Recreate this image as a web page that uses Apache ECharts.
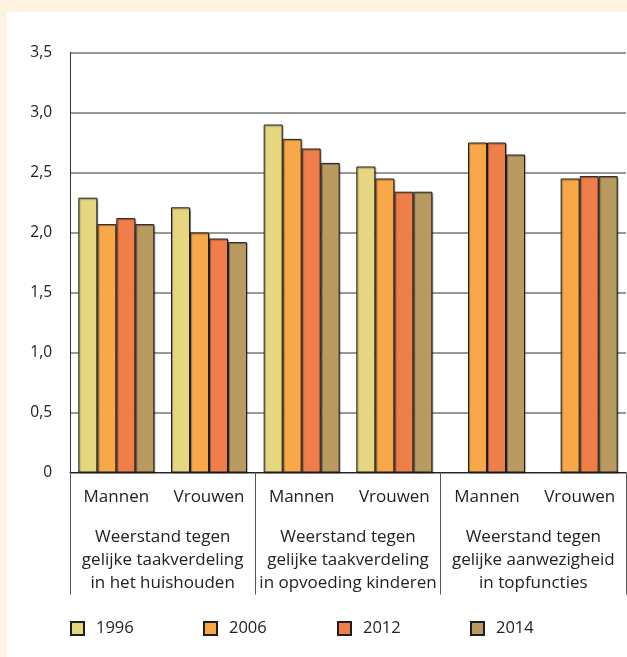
<!DOCTYPE html>
<html>
<head>
<meta charset="utf-8">
<script src="https://cdn.jsdelivr.net/npm/echarts@6/dist/echarts.min.js"></script>
<style>
  html, body { margin: 0; padding: 0; background: #fef3e0; }
  #main { position: absolute; left: 7px; top: 12px; width: 620px; height: 645px; background: #ffffff; }
</style>
</head>
<body>
<div id="main"></div>
<script>
// data
var groepen = ['Mannen', 'Vrouwen', 'Mannen', 'Vrouwen', 'Mannen', 'Vrouwen'];
var thema = [
  'Weerstand tegen\ngelijke taakverdeling\nin het huishouden',
  'Weerstand tegen\ngelijke taakverdeling\nin opvoeding kinderen',
  'Weerstand tegen\ngelijke aanwezigheid\nin topfuncties'
];
var jaren = ['1996', '2006', '2012', '2014'];
var j1996 = [2.29, 2.21, 2.90, 2.55, null, null];
var j2006 = [2.07, 2.00, 2.78, 2.45, 2.75, 2.45];
var j2012 = [2.12, 1.95, 2.70, 2.34, 2.75, 2.47];
var j2014 = [2.07, 1.92, 2.58, 2.34, 2.65, 2.47];
var kleuren = ['#e5d67f', '#f8a848', '#f07e4b', '#b99b61'];

var myChart = echarts.init(document.getElementById('main'));

var font = 'Open Sans';
var reeksen = [j1996, j2006, j2012, j2014];
var legendLeft = [63, 196, 330, 463];

var option = {
  animation: false,
  textStyle: { fontFamily: font },
  grid: { left: 63, right: 1, top: 40.5, bottom: 184.5, containLabel: false },
  // one legend per year, so the spacing matches the figure
  legend: jaren.map(function (j, i) {
    return {
      left: legendLeft[i],
      top: 608,
      padding: 0,
      itemWidth: 13,
      itemHeight: 13,
      icon: 'rect',
      data: [j],
      textStyle: { fontSize: 16.5, color: '#222', padding: [0, 0, 0, 7], fontFamily: font }
    };
  }),
  xAxis: [
    {
      type: 'category',
      data: groepen,
      position: 'bottom',
      axisLine: { lineStyle: { color: '#222', width: 1 } },
      axisTick: { inside: true, length: 9, interval: 0, lineStyle: { color: '#777', width: 1.5 } },
      axisLabel: { fontSize: 17, color: '#222', margin: 16, interval: 0, fontFamily: font }
    },
    {
      type: 'category',
      data: thema,
      position: 'bottom',
      axisLine: { show: true, lineStyle: { color: 'rgba(0,0,0,0)' } },
      axisTick: { show: true, length: 122, interval: 0, lineStyle: { color: '#555', width: 1 } },
      axisLabel: { fontSize: 17, color: '#222', margin: 53, lineHeight: 23, interval: 0, fontFamily: font }
    }
  ],
  yAxis: {
    type: 'value',
    min: 0,
    max: 3.5,
    interval: 0.5,
    axisLine: { show: true, lineStyle: { color: '#333', width: 1 } },
    axisTick: { show: false },
    splitLine: { lineStyle: { color: '#777', width: 1.5 } },
    axisLabel: {
      fontSize: 15.5, color: '#222', margin: 18, fontFamily: font,
      formatter: function (v) { return v === 0 ? '0' : v.toFixed(1).replace('.', ','); }
    }
  },
  series: reeksen.map(function (d, i) {
    return {
      name: jaren[i],
      type: 'bar',
      xAxisIndex: 0,
      data: d,
      barGap: '0%',
      barCategoryGap: '18%',
      itemStyle: {
        color: kleuren[i],
        borderColor: '#1e1e1e',
        borderWidth: 1,
        shadowColor: 'rgba(0,0,0,0.35)',
        shadowOffsetX: 1,
        shadowOffsetY: 1,
        shadowBlur: 1
      }
    };
  })
};

myChart.setOption(option);
</script>
</body>
</html>
